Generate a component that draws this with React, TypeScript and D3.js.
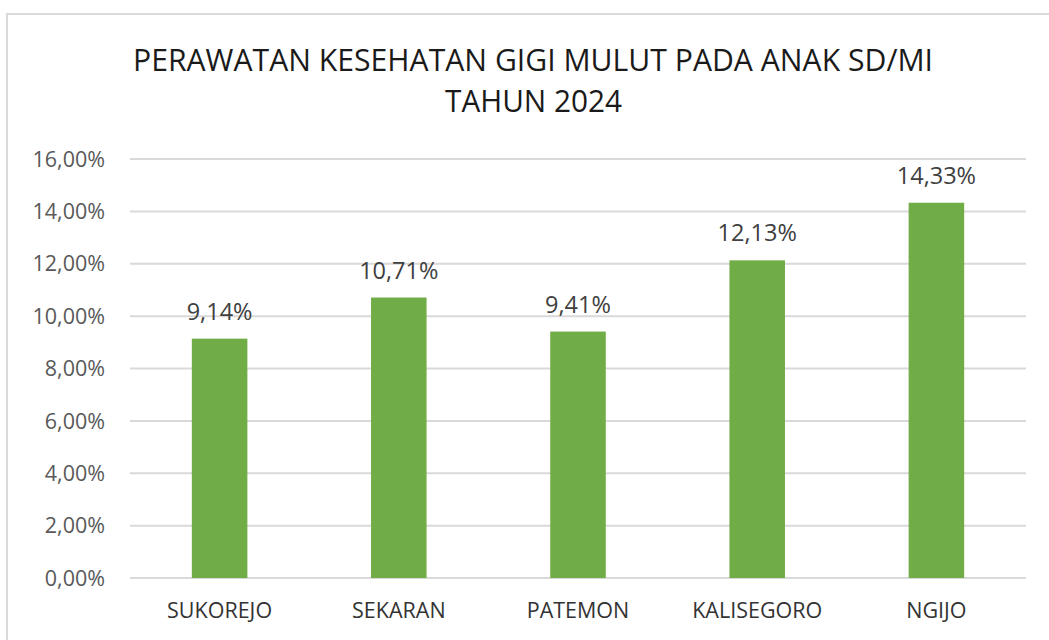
import React from "react";
import * as d3 from "d3";

const categories = ["SUKOREJO", "SEKARAN", "PATEMON", "KALISEGORO", "NGIJO"];
const values = [9.14, 10.71, 9.41, 12.13, 14.33];
const yTicks = [0, 2, 4, 6, 8, 10, 12, 14, 16];
const titleLines = ["PERAWATAN KESEHATAN GIGI MULUT PADA ANAK SD/MI", "TAHUN 2024"];

const W = 1049;
const H = 640;
const FONT = "'Open Sans', 'Noto Sans', sans-serif";

const fmt = (v: number) => v.toFixed(2).replace(".", ",") + "%";

export default function App() {
  const x = d3
    .scaleBand<string>()
    .domain(categories)
    .range([130, 1026])
    .paddingInner(0.69)
    .paddingOuter(0.345);
  const y = d3.scaleLinear().domain([0, 16]).range([578, 159]);

  return (
    <svg
      width={W}
      height={H}
      style={{ position: "absolute", left: 0, top: 0, background: "#fff" }}
    >
      <rect x={0} y={0} width={W} height={H} fill="#ffffff" />
      <rect x={7} y={14} width={1200} height={800} fill="#ffffff" stroke="#d9d9d9" strokeWidth={2} />
      <g fontFamily={FONT}>
        <text x={533} y={71} textAnchor="middle" fontSize={31} fill="#1a1a1a" textLength={800} lengthAdjust="spacingAndGlyphs">
          {titleLines[0]}
        </text>
        <text x={533.5} y={112} textAnchor="middle" fontSize={31} fill="#1a1a1a" textLength={177} lengthAdjust="spacingAndGlyphs">
          {titleLines[1]}
        </text>
        {yTicks.map((t) => (
          <g key={t}>
            <line x1={130} x2={1026} y1={y(t)} y2={y(t)} stroke="#d9d9d9" strokeWidth={2} />
            <text x={105} y={y(t)} dy="0.36em" textAnchor="end" fontSize={21.5} fill="#595959">
              {fmt(t)}
            </text>
          </g>
        ))}
        {categories.map((c, i) => {
          const bx = x(c) as number;
          const bw = x.bandwidth();
          return (
            <g key={c}>
              <rect x={bx} y={y(values[i])} width={bw} height={y(0) - y(values[i])} fill="#70ad47" />
              <text x={bx + bw / 2} y={y(values[i]) - 19} textAnchor="middle" fontSize={23.5} fill="#404040">
                {fmt(values[i])}
              </text>
              <text x={bx + bw / 2} y={618} textAnchor="middle" fontSize={21.5} fill="#333333">
                {c}
              </text>
            </g>
          );
        })}
      </g>
    </svg>
  );
}
